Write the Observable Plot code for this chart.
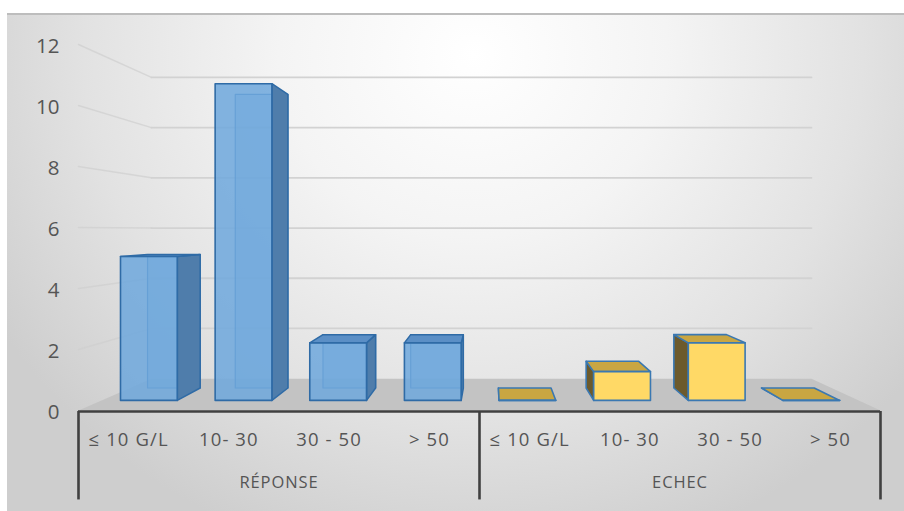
<!DOCTYPE html>
<html>
<head>
<meta charset="utf-8">
<script src="https://cdn.jsdelivr.net/npm/d3@7"></script>
<script src="https://cdn.jsdelivr.net/npm/@observablehq/plot@0.6"></script>
<style>
  html, body { margin: 0; padding: 0; background: #fff; overflow: hidden; }
  #frame { position: relative; width: 904px; height: 511px; background: #fff; }
  #bg {
    position: absolute; left: 7px; top: 13px; right: 0; bottom: 0;
    border-top: 2px solid #bdbdbd;
    background: radial-gradient(ellipse 62% 105% at 52% 8%, #ffffff 0%, #f4f4f4 35%, #e2e2e2 70%, #cecece 100%);
  }
  #chart { position: absolute; left: 0; top: 0; }
  g[aria-description="category-labels"] text { letter-spacing: 1.1px; }
  g[aria-description="group-labels"] text { letter-spacing: 0.9px; }
</style>
</head>
<body>
<div id="frame"><div id="bg"></div><div id="chart"></div></div>
<script>
// Platelet count classes, by treatment outcome
const groups = ["RÉPONSE", "ECHEC"];
const ranges = ["≤ 10 G/L", "10- 30", "30 - 50", "> 50"];
const reponse = [5, 11, 2, 2];
const echec = [0, 1, 2, 0];
const yTicks = [0, 2, 4, 6, 8, 10, 12];

// Simple one-point perspective: x in category slots, y in counts.
// s = 1 is the front plane of the floor, smaller s lies further back.
const U = 4.11, V = 5.9;
const S_FRONT = 0.944, S_BACK = 0.875, S_WALL = 0.823;
const proj = (u, v, s) => ({x: U + s * (u - U), y: V + s * (v - V)});

const bars = [
  ...reponse.map((v, i) => ({slot: i, value: v, kind: "blue"})),
  ...echec.map((v, i) => ({slot: i + 4, value: v, kind: "yellow"}))
];

function polygon(id, pts) {
  return [...pts, pts[0]].map((p) => ({id, ...p}));
}

function faces(b) {
  const u0 = b.slot + 0.2, u1 = b.slot + 0.8, v = b.value;
  const F = (u, y) => proj(u, y, S_FRONT);
  const B = (u, y) => proj(u, y, S_BACK);
  const id = `${b.kind}-${b.slot}`;
  return {
    back: polygon(id + "-back", [B(u0, 0), B(u1, 0), B(u1, v), B(u0, v)]),
    left: polygon(id + "-left", [F(u0, 0), B(u0, 0), B(u0, v), F(u0, v)]),
    right: polygon(id + "-right", [F(u1, 0), B(u1, 0), B(u1, v), F(u1, v)]),
    top: polygon(id + "-top", [F(u0, v), F(u1, v), B(u1, v), B(u0, v)]),
    front: polygon(id + "-front", [F(u0, 0), F(u1, 0), F(u1, v), F(u0, v)])
  };
}

const blue = bars.filter((b) => b.kind === "blue").map(faces);
const yellow = bars.filter((b) => b.kind === "yellow").map(faces);
const blueTops = bars.filter((b) => b.kind === "blue" && b.value <= V).map(faces);

// Back wall gridlines and their slanted side-wall segments
const gridSlant = yTicks.filter((t) => t > 0).flatMap((t) =>
  [proj(0, t, 1), proj(0, t, S_WALL)].map((p) => ({id: t, ...p})));
const gridBack = yTicks.filter((t) => t > 0).flatMap((t) =>
  [proj(0, t, S_WALL), proj(8, t, S_WALL)].map((p) => ({id: t, ...p})));
const floor = polygon("floor", [proj(0, 0, 1), proj(8, 0, 1), proj(8, 0, S_WALL), proj(0, 0, S_WALL)]);

const catLabels = [...ranges, ...ranges].map((r, i) => ({slot: i + 0.5, label: r}));
const groupLabels = groups.map((g, i) => ({slot: i * 4 + 2, label: g}));

const poly = (data, opts) => Plot.line(data, {x: "x", y: "y", z: "id", ...opts});

const chart = Plot.plot({
  width: 904,
  height: 511,
  x: {domain: [0, 8], range: [78, 880], axis: null},
  y: {domain: [0, 12], range: [410, 44], axis: null},
  style: {background: "transparent", fontFamily: "'Open Sans', Lato, sans-serif", overflow: "visible"},
  marks: [
    poly(gridSlant, {stroke: "#cfcfcf", strokeWidth: 1.5, strokeOpacity: 0.7}),
    poly(gridBack, {stroke: "#d2d2d2", strokeWidth: 1.8}),
    poly(floor, {fill: "#c3c3c3", stroke: "none"}),

    // blue bars, slightly transparent so the rear edges show through
    ...blue.map((f) => poly(f.back, {stroke: "#3672ad", strokeWidth: 1.2, fill: "#6ea6da", fillOpacity: 0.5})),
    ...blue.map((f) => poly(f.right, {fill: "#4f7dab", stroke: "#2f6ba6", strokeWidth: 1.5})),
    ...blueTops.map((f) => poly(f.top, {fill: "#5b8fc6", stroke: "#2f6ba6", strokeWidth: 1.5})),
    ...blue.map((f) => poly(f.front, {fill: "#6fa8dc", fillOpacity: 0.86, stroke: "#2f6ba6", strokeWidth: 1.6})),

    // yellow bars
    ...yellow.map((f) => poly(f.left, {fill: "#6c5a2c", stroke: "#3a78b2", strokeWidth: 1.6})),
    ...yellow.map((f) => poly(f.top, {fill: "#c9a642", stroke: "#3a78b2", strokeWidth: 1.6})),
    ...yellow.map((f) => poly(f.front, {fill: "#ffd966", stroke: "#3a78b2", strokeWidth: 1.6})),

    // category axis
    Plot.ruleY([0], {x1: 0, x2: 8, stroke: "#404040", strokeWidth: 2.6, dy: 1}),
    Plot.ruleX([0, 4, 8], {y1: 0, y2: -2.9, stroke: "#404040", strokeWidth: 2.6, dy: 1}),
    Plot.text(yTicks, {x: 0, y: (d) => d, text: (d) => String(d), dx: -19, dy: 2, textAnchor: "end", fontSize: 20.5, fill: "#555555"}),
    Plot.text(catLabels, {x: "slot", y: 0, text: "label", dy: 30, fontSize: 18.5, fill: "#555555", ariaDescription: "category-labels"}),
    Plot.text(groupLabels, {x: "slot", y: 0, text: "label", dy: 72, fontSize: 16.5, fill: "#555555", ariaDescription: "group-labels"})
  ]
});

document.getElementById("chart").appendChild(chart);
</script>
</body>
</html>
